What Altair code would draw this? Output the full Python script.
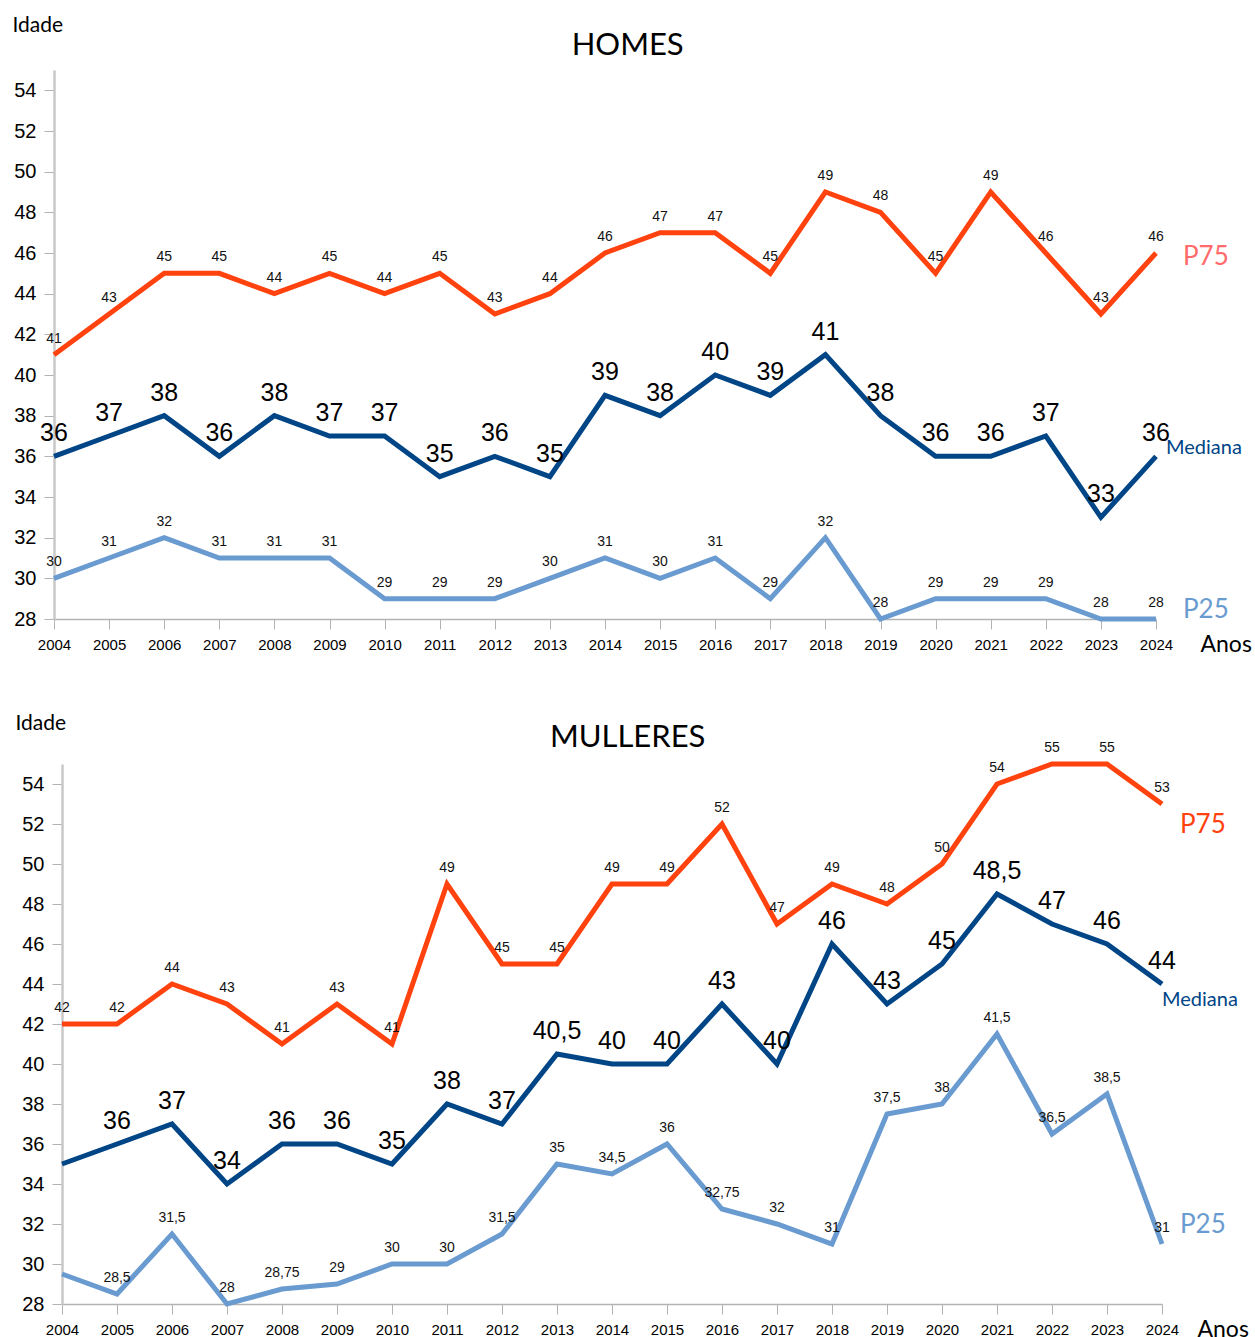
import altair as alt
import pandas as pd

years = list(range(2004, 2025))

# Ages of men (HOMES): 75th percentile, median and 25th percentile
homes_p75 = [41, 43, 45, 45, 44, 45, 44, 45, 43, 44, 46, 47, 47, 45, 49, 48, 45, 49, 46, 43, 46]
homes_med = [36, 37, 38, 36, 38, 37, 37, 35, 36, 35, 39, 38, 40, 39, 41, 38, 36, 36, 37, 33, 36]
homes_p25 = [30, 31, 32, 31, 31, 31, 29, 29, 29, 30, 31, 30, 31, 29, 32, 28, 29, 29, 29, 28, 28]

# Ages of women (MULLERES)
mulleres_p75 = [42, 42, 44, 43, 41, 43, 41, 49, 45, 45, 49, 49, 52, 47, 49, 48, 50, 54, 55, 55, 53]
mulleres_med = [35, 36, 37, 34, 36, 36, 35, 38, 37, 40.5, 40, 40, 43, 40, 46, 43, 45, 48.5, 47, 46, 44]
mulleres_p25 = [29.5, 28.5, 31.5, 28, 28.75, 29, 30, 30, 31.5, 35, 34.5, 36, 32.75, 32, 31,
                37.5, 38, 41.5, 36.5, 38.5, 31]
# points drawn without a value label
mulleres_unlabelled = {"Mediana": [2004], "P25": [2004]}

series_names = ["P75", "Mediana", "P25"]
line_colors = ["#FF420E", "#004586", "#6A9BD0"]

NUM_FONT = "Liberation Sans"
TXT_FONT = "Lato"


def fmt(v):
    if float(v).is_integer():
        return str(int(v))
    return ("%g" % v).replace(".", ",")


def build_frame(p75, med, p25, unlabelled=None):
    unlabelled = unlabelled or {}
    rows = []
    for name, vals in zip(series_names, [p75, med, p25]):
        for y, v in zip(years, vals):
            lab = "" if y in unlabelled.get(name, []) else fmt(v)
            rows.append({"ano": y, "serie": name, "idade": v, "etiqueta": lab})
    return pd.DataFrame(rows)


def panel(df, title, width, height, p75_color, name_offsets, anos_x, idade_xy,
          title_dx, title_offset):
    x = alt.X(
        "ano:Q",
        scale=alt.Scale(domain=[2004, 2024], nice=False, zero=False),
        axis=alt.Axis(
            values=years, format="d", title="Anos", titleAngle=0,
            titleAlign="left", titleBaseline="alphabetic",
            titleX=anos_x, titleY=32, titleFont=TXT_FONT, titleFontSize=23,
            titleFontWeight="normal", titleColor="#000000",
            labelFont=NUM_FONT, labelFontSize=15, labelColor="#000000",
            labelPadding=8, tickSize=10, tickColor="#b3b3b3",
            domainColor="#b3b3b3", domainWidth=1.5, grid=False,
            labelOverlap=False, labelFlush=False,
        ),
    )
    y = alt.Y(
        "idade:Q",
        scale=alt.Scale(domain=[28, 55], nice=False, zero=False),
        axis=alt.Axis(
            values=list(range(28, 55, 2)), title="Idade", titleAngle=0,
            titleAlign="left", titleBaseline="alphabetic",
            titleX=idade_xy[0], titleY=idade_xy[1], titleFont=TXT_FONT, titleFontSize=21,
            titleFontWeight="normal", titleColor="#000000",
            labelFont=NUM_FONT, labelFontSize=20, labelColor="#000000",
            labelPadding=8, tickSize=10, tickColor="#b3b3b3",
            domainColor="#c8c8c8", domainWidth=2.5, grid=False,
        ),
    )
    color = alt.Color(
        "serie:N",
        scale=alt.Scale(domain=series_names, range=line_colors),
        legend=None,
    )
    base = alt.Chart(df)
    lines = base.mark_line(strokeWidth=5, strokeJoin="miter", strokeCap="butt").encode(
        x=x, y=y, color=color, order="ano:Q", detail="serie:N"
    )
    small = base.transform_filter(alt.datum.serie != "Mediana").mark_text(
        font=NUM_FONT, fontSize=14, dy=-16, color="#111111"
    ).encode(x="ano:Q", y="idade:Q", text="etiqueta:N")
    big = base.transform_filter(alt.datum.serie == "Mediana").mark_text(
        font=NUM_FONT, fontSize=25, dy=-23, color="#000000"
    ).encode(x="ano:Q", y="idade:Q", text="etiqueta:N")

    name_colors = {"P75": p75_color, "Mediana": "#004586", "P25": "#6A9BD0"}
    name_sizes = {"P75": 26, "Mediana": 20, "P25": 26}
    names = []
    for nm in series_names:
        dx, dy = name_offsets[nm]
        names.append(
            base.transform_filter(
                (alt.datum.serie == nm) & (alt.datum.ano == 2024)
            ).mark_text(
                font=TXT_FONT, fontSize=name_sizes[nm], align="left",
                baseline="middle", dx=dx, dy=dy, color=name_colors[nm],
            ).encode(x="ano:Q", y="idade:Q", text="serie:N")
        )

    return alt.layer(lines, small, big, *names).properties(
        width=width,
        height=height,
        title=alt.TitleParams(
            title, font=TXT_FONT, fontSize=31, fontWeight="normal",
            color="#000000", anchor="middle", frame="bounds",
            offset=title_offset, dx=title_dx,
        ),
    )


def indent(w):
    # empty strip that sets a panel's left indentation
    return alt.Chart(pd.DataFrame({"v": [0]})).mark_point(opacity=0, size=0).encode(
        x=alt.value(0), y=alt.value(0)
    ).properties(width=w, height=1)


homes = build_frame(homes_p75, homes_med, homes_p25)
mulleres = build_frame(mulleres_p75, mulleres_med, mulleres_p25, mulleres_unlabelled)

top = panel(homes, "HOMES", 1102, 549, "#FF6B6B",
            {"P75": (27, 4), "Mediana": (10, -8), "P25": (27, -9)},
            1146, (-42, -39), -4, -48)
bottom = panel(mulleres, "MULLERES", 1100, 540, "#FF420E",
               {"P75": (18, 21), "Mediana": (0, 16), "P25": (18, -19)},
               1135, (-47, -35), -4, -42)

chart = alt.vconcat(
    alt.hconcat(indent(1), top, spacing=0),
    alt.hconcat(indent(4), bottom, spacing=0),
    spacing=56,
).properties(
    padding={"left": 11, "top": 14, "right": 0, "bottom": 0}
).configure_view(stroke=None)

chart.save("out.html", embed_options={"renderer": "svg", "actions": False})
